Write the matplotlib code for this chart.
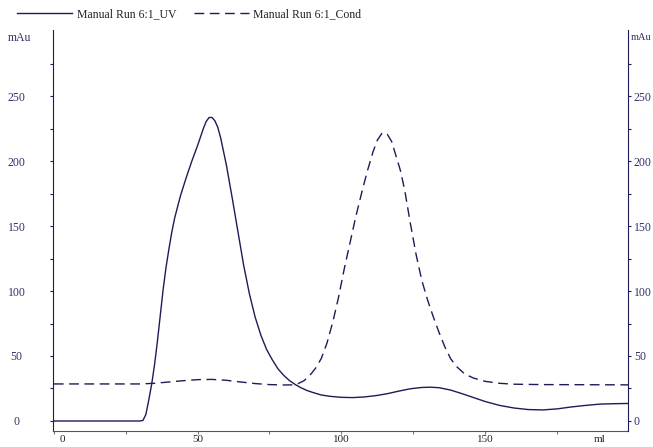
import matplotlib
matplotlib.use("Agg")
import matplotlib.pyplot as plt
from matplotlib.transforms import ScaledTranslation

# ── Data ────────────────────────────────────────────────────────────────────

uv_ml = [0, 30, 31, 32, 33, 34, 35, 36, 37, 38, 39, 40, 41, 42, 44, 46, 48,
         50, 52, 53, 54, 55, 56, 57, 58, 60, 62, 64, 66, 68, 70, 72, 74, 76,
         78, 80, 82, 84, 86, 88, 90, 93, 96, 100, 104, 108, 112, 116, 120,
         124, 128, 131, 134, 138, 142, 146, 150, 155, 160, 165, 170, 175,
         180, 185, 190, 195, 200]
uv_mau = [0, 0, 0.5, 5, 16, 28, 43, 61, 81, 101, 118, 132, 145, 156, 173,
          187, 200, 212, 225, 230.5, 233.5, 233.5, 231, 226, 218, 197, 172,
          146, 120, 98, 80, 66, 55, 47, 40, 35, 31, 28, 25.5, 23.5, 22, 20,
          19, 18.2, 18, 18.5, 19.5, 21, 23, 24.8, 25.8, 26, 25.6, 23.8, 21,
          18, 15, 12, 10, 8.8, 8.5, 9.3, 10.8, 12, 13, 13.3, 13.5]

cond_ml = [0, 30, 35, 40, 45, 50, 55, 60, 65, 70, 75, 80, 83, 85, 87, 89, 91,
           93, 95, 97, 99, 101, 103, 105, 107, 109, 111, 112.5, 114, 115, 116,
           117.5, 119, 120.5, 122, 124, 126, 128, 130, 132, 134, 136, 138,
           140, 143, 146, 150, 155, 160, 170, 200]
cond_val = [28.5, 28.5, 29, 30, 31, 31.8, 32, 31.3, 30, 28.8, 28, 27.7, 27.8,
            28.8, 31, 35, 40.5, 48, 60, 76, 95, 117, 137, 157, 175, 192, 207,
            216, 221, 222, 220.5, 215, 204, 193, 178, 152, 128, 108, 93, 80,
            68, 57, 48, 42, 36, 33, 30.5, 29, 28.3, 28, 27.8]

series_names = ["Manual Run 6:1_UV", "Manual Run 6:1_Cond"]
y_ticks = list(range(0, 276, 25))
y_labels = [str(t) if t % 50 == 0 else "" for t in y_ticks]
x_ticks = list(range(0, 176, 25))
x_labels = [str(t) if t % 50 == 0 else "" for t in x_ticks]

NAVY = "#1c1c58"
LABEL = "#30306a"

plt.rcParams["font.family"] = ["Liberation Serif", "DejaVu Serif"]
plt.rcParams["font.size"] = 8.5

# ── Figure ──────────────────────────────────────────────────────────────────

fig = plt.figure(figsize=(6.53, 4.47), dpi=100)
ax = fig.add_axes([53 / 653, 16 / 447, 575 / 653, 401 / 447])
ax2 = ax.twinx()

uv_line, = ax.plot(uv_ml, uv_mau, color=NAVY, lw=1.0)
cond_line, = ax2.plot(cond_ml, cond_val, color=NAVY, lw=1.0,
                      linestyle=(0, (7, 4)))

for a in (ax, ax2):
    a.set_xlim(-0.3, 199.7)
    a.set_ylim(-7.7, 300.8)
    a.spines["top"].set_visible(False)

ax.spines["left"].set_color(NAVY)
ax.spines["right"].set_visible(False)
ax2.spines["left"].set_visible(False)
ax2.spines["bottom"].set_visible(False)
ax2.spines["right"].set_color(NAVY)
ax.spines["bottom"].set_color("#555555")

# y ticks: left labels centred far from the spine, right labels close to it
ax.set_yticks(y_ticks, y_labels)
ax.tick_params(axis="y", length=2.2, width=0.8, color=NAVY, pad=24,
               labelcolor=LABEL)
plt.setp(ax.get_yticklabels(), ha="center")

ax2.set_yticks(y_ticks, y_labels)
ax2.tick_params(axis="y", length=2.2, width=0.8, color=NAVY, pad=2,
                labelcolor=LABEL)

ax.set_xticks(x_ticks, x_labels)
ax.tick_params(axis="x", length=2, width=0.8, color="#777777", pad=1,
               labelcolor="#222222", labelsize=8)
first = ax.get_xticklabels()[0]
first.set_transform(first.get_transform()
                    + ScaledTranslation(9 / 100, 0, fig.dpi_scale_trans))

# unit labels in place of the last tick values
ax.annotate("ml", xy=(190, 0), xycoords=("data", "axes fraction"),
            xytext=(0, -2.8), textcoords="offset points",
            ha="center", va="top", color="#222222", fontsize=8)
fig.text(20 / 653, 1 - 38 / 447, "mAu", ha="center", va="center",
         color=LABEL)
fig.text(651 / 653, 1 - 38 / 447, "mAu", ha="right", va="center",
         color=LABEL, fontsize=7.5)

# ── Legend strip at the top ─────────────────────────────────────────────────

fig.legend([uv_line, cond_line], series_names, loc="center left",
           bbox_to_anchor=(17 / 653, 1 - 14 / 447), ncol=2, frameon=False,
           borderpad=0, borderaxespad=0, handlelength=4.7,
           handletextpad=0.35, columnspacing=1.5, labelcolor="#222222")

fig.savefig("out.png", dpi=100)
